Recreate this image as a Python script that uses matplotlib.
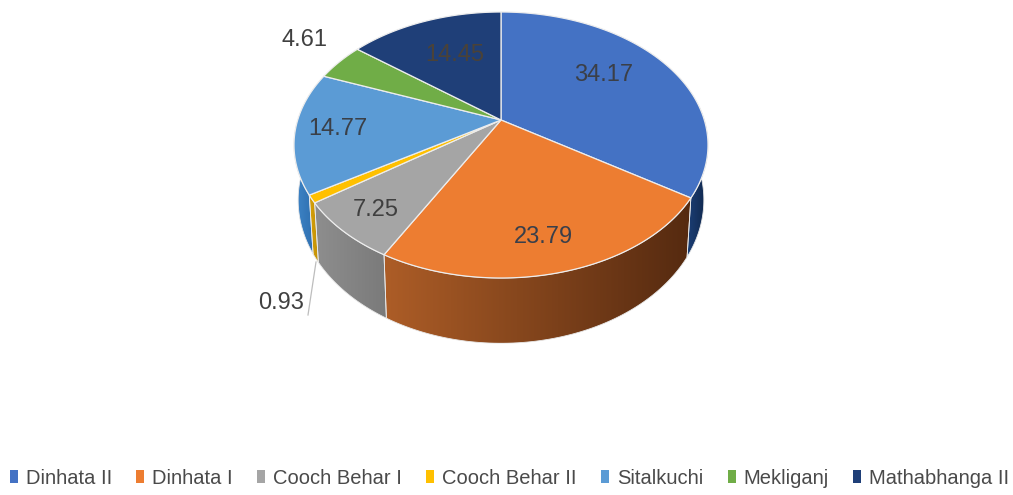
import numpy as np
import matplotlib
matplotlib.use("Agg")
import matplotlib.pyplot as plt
from matplotlib.patches import Polygon, Patch
from matplotlib.colors import LinearSegmentedColormap

categories = ["Dinhata II", "Dinhata I", "Cooch Behar I", "Cooch Behar II", "Sitalkuchi", "Mekliganj", "Mathabhanga II"]
values = [34.17, 23.79, 7.25, 0.93, 14.77, 4.61, 14.45]
value_labels = ["34.17", "23.79", "7.25", "0.93", "14.77", "4.61", "14.45"]

colors = ["#4472C4", "#ED7D31", "#A5A5A5", "#FFC000", "#5B9BD5", "#70AD47", "#1F3F78"]
side_left = ["#1B3F75", "#AD5D27", "#8E8E8E", "#D9A30A", "#3F86C8", "#4F7F30", "#15294F"]
side_right = ["#10264B", "#552A10", "#7A7A7A", "#C08E05", "#2F6FB0", "#3F6A25", "#15294F"]
label_pos = [(604, 75), (543, 237), (376, 210), (281, 303), (338, 129), (305, 40), (455, 55)]
label_colors = ["#3B3F47", "#3A3F4A", "#3F3F3F", "#404040", "#3A3F47", "#404040", "#4A4238"]

# pie projection, pixels
cx, cy = 501, 120
rx, ry = 203.3, 128.3
k = 0.188
depth = 53
shrink = 0.98


def top_xy(theta):
    u, v = np.sin(theta), np.cos(theta)
    w = 1 + k * v
    return cx + rx * u / w, cy - ry * v / w


def low_xy(theta):
    u, v = np.sin(theta), np.cos(theta)
    w = 1 + k * v
    return cx + shrink * rx * u / w, cy + (depth - ry * v) / w


plt.rcParams["font.family"] = ["Liberation Sans", "DejaVu Sans"]
fig = plt.figure(figsize=(10.13, 4.95), dpi=100)
ax = fig.add_axes([0, 0, 1, 1])

edges = np.deg2rad(np.concatenate([[0], np.cumsum(values) / np.sum(values) * 360]))
front_a, front_b = np.deg2rad(84), np.deg2rad(268)

# side walls first
for i in range(len(values)):
    a, b = max(edges[i], front_a), min(edges[i + 1], front_b)
    if a >= b:
        continue
    t = np.linspace(a, b, 80)
    xt, yt = top_xy(t)
    xl, yl = low_xy(t)
    pts = np.column_stack([np.r_[xt, xl[::-1]], np.r_[yt, yl[::-1]]])
    poly = Polygon(pts, closed=True, facecolor="none", edgecolor="#E8E8E8", lw=0.6, zorder=2)
    ax.add_patch(poly)
    cmap = LinearSegmentedColormap.from_list("side", [side_left[i], side_right[i]])
    grad = np.linspace(0, 1, 256).reshape(1, -1)
    im = ax.imshow(grad, cmap=cmap, aspect="auto", zorder=1,
                   extent=[pts[:, 0].min(), pts[:, 0].max(), pts[:, 1].max(), pts[:, 1].min()])
    im.set_clip_path(poly)

# top slices
for i in range(len(values)):
    t = np.linspace(edges[i], edges[i + 1], 120)
    xt, yt = top_xy(t)
    pts = np.column_stack([np.r_[cx, xt], np.r_[cy, yt]])
    ax.add_patch(Polygon(pts, closed=True, facecolor=colors[i], edgecolor="#EDEDED", lw=0.9, zorder=3))

for i, lab in enumerate(value_labels):
    ax.text(label_pos[i][0], label_pos[i][1], lab, ha="center", va="center",
            fontsize=17, color=label_colors[i], zorder=5)

# leader for the small slice
ax.plot([316, 308], [262, 315], color="#BDBDBD", lw=0.9, zorder=4)

handles = [Patch(facecolor=c, edgecolor="none") for c in colors]
ax.legend(handles, categories, ncol=7, loc="center", bbox_to_anchor=(0.503, 0.034), frameon=False,
          fontsize=14.5, handlelength=0.4, handleheight=0.6, handletextpad=0.4, columnspacing=1.2,
          labelcolor="#4A4A4A", borderpad=0, borderaxespad=0)

ax.set_xlim(0, 1013)
ax.set_ylim(495, 0)
ax.axis("off")

plt.savefig("out.png", dpi=100)
